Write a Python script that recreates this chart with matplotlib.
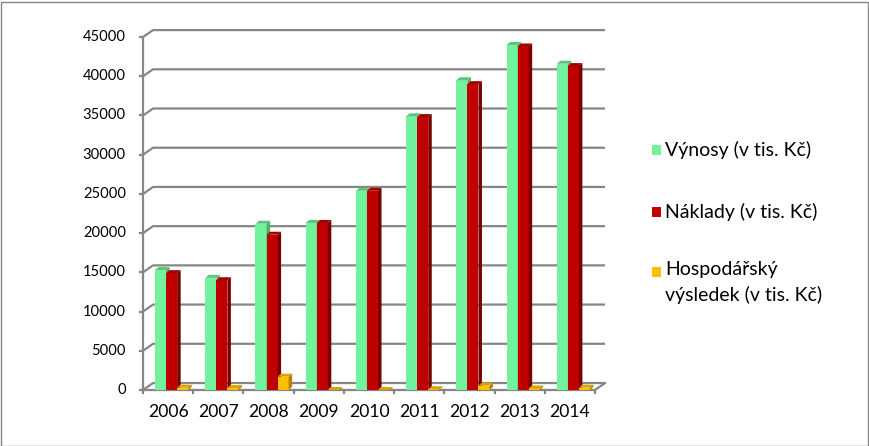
import numpy as np
import matplotlib
matplotlib.use("Agg")
import matplotlib.pyplot as plt
from matplotlib.patches import Rectangle, Polygon

plt.rcParams['font.family'] = ['Lato', 'DejaVu Sans']

# data (v tis. Kc)
roky = ['2006', '2007', '2008', '2009', '2010', '2011', '2012', '2013', '2014']
vynosy = [15300, 14300, 21200, 21300, 25400, 34900, 39500, 44000, 41600]
naklady = [14900, 14000, 19800, 21300, 25400, 34800, 39000, 43800, 41300]
vysledek = [300, 250, 1700, -150, -150, 100, 550, 200, 300]
nazvy = ['Výnosy (v tis. Kč)', 'Náklady (v tis. Kč)', 'Hospodářský\nvýsledek (v tis. Kč)']
yticks = np.arange(0, 45001, 5000)

barvy = [('#72F29C', '#5BC47E', '#4FAE6E'),
         ('#C00000', '#A00000', '#7A0000'),
         ('#FFC000', '#D9A300', '#B38600')]

grid_c = '#868686'
DX, DY = 0.2, 890      # hloubka zadni steny
bdx, bdy = 0.07, 380   # hloubka sloupce
w = 0.22

fig = plt.figure(figsize=(8.69, 4.46), dpi=100)
ax = fig.add_axes([143/869, 56/446, 462/869, 360/446])
ax.set_xlim(-0.5, 8.7)
ax.set_ylim(0, 45900)
ax.axis('off')

# zadni stena - mrizka
for v in yticks:
    ax.plot([-0.5, -0.5 + DX, 8.5 + DX], [v, v + DY, v + DY], color=grid_c, lw=1.6,
            zorder=1, clip_on=False, solid_capstyle='butt')
    ax.plot([-0.56, -0.5], [v, v], color=grid_c, lw=1.6, clip_on=False)
ax.plot([-0.5, -0.5], [0, 45000], color=grid_c, lw=1.6, clip_on=False, zorder=2)
# podlaha
ax.plot([-0.5, 8.5, 8.5 + DX], [0, 0, DY], color=grid_c, lw=1.6, clip_on=False, zorder=2)
for i in range(10):
    ax.plot([i - 0.5, i - 0.5], [0, -420], color=grid_c, lw=1.6, clip_on=False)


def sloupec(x0, v, c, z):
    front, top, side = c
    t = max(v, 0)
    b = min(v, 0)
    ax.add_patch(Rectangle((x0, b), w, t - b, facecolor=front, edgecolor='none', zorder=z))
    ax.add_patch(Polygon([(x0, t), (x0 + w, t), (x0 + w + bdx, t + bdy), (x0 + bdx, t + bdy)],
                         closed=True, facecolor=top, edgecolor='none', zorder=z))
    ax.add_patch(Polygon([(x0 + w, b), (x0 + w, t), (x0 + w + bdx, t + bdy), (x0 + w + bdx, b + bdy)],
                         closed=True, facecolor=side, edgecolor='none', zorder=z))


z = 3
for i in range(len(roky)):
    for j, serie in enumerate([vynosy, naklady, vysledek]):
        sloupec(i - 0.26 + j * w, serie[i], barvy[j], z)
        z += 1

for v in yticks:
    ax.text(-0.84, v, str(v), ha='right', va='center', fontsize=10.6, color='black')
for i, r in enumerate(roky):
    ax.text(i, -2800, r, ha='center', va='center', fontsize=12.6, color='black')

# legenda
ly = [150, 212, 272]
for j in range(3):
    fig.patches.append(Rectangle((652/869, (446 - ly[j] - 5)/446), 9/869, 10/446,
                                 facecolor=barvy[j][0], edgecolor='none',
                                 transform=fig.transFigure, figure=fig))
    fig.text(665/869, (446 - ly[j] + (11 if j == 2 else 0))/446, nazvy[j], ha='left',
             va='top' if j == 2 else 'center', fontsize=14, linespacing=1.5)

fig.patches.append(Rectangle((0.5/869, 0.5/446), 867/869, 444/446, facecolor='none',
                             edgecolor=grid_c, lw=1, transform=fig.transFigure, figure=fig))

fig.savefig('out.png', dpi=100)
